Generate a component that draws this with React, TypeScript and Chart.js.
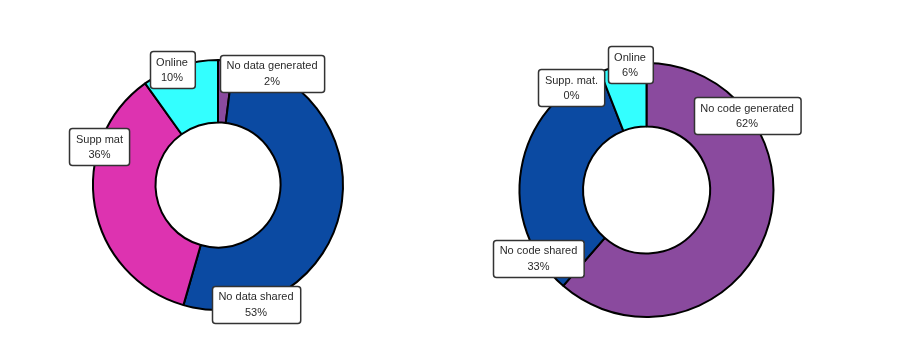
import React, { useEffect, useRef } from "react";
import { Chart, registerables } from "chart.js";

Chart.register(...registerables);

// Data chart (left)
const dataCategories = ["No data generated", "No data shared", "Supp mat", "Online"];
const dataValues = [2, 53, 36, 10];
// Code chart (right)
const codeCategories = ["No code generated", "No code shared", "Supp. mat.", "Online"];
const codeValues = [62, 33, 0, 6];

const dataColors = ["#8A4A9E", "#0B4AA2", "#DD33B0", "#33FFFF"];
const codeColors = ["#8A4A9E", "#0B4AA2", "#DD33B0", "#33FFFF"];

// label box centre offsets relative to the doughnut centre (styling only)
const dataLabelOffsets = [
  [54, -112],
  [38, 119],
  [-118.5, -38.5],
  [-46, -115.5],
];
const codeLabelOffsets = [
  [100.5, -74.5],
  [-108, 68],
  [-75, -102.5],
  [-16.5, -125.5],
];

function roundRect(ctx: CanvasRenderingContext2D, x: number, y: number, w: number, h: number, r: number) {
  ctx.beginPath();
  ctx.moveTo(x + r, y);
  ctx.lineTo(x + w - r, y);
  ctx.arcTo(x + w, y, x + w, y + r, r);
  ctx.lineTo(x + w, y + h - r);
  ctx.arcTo(x + w, y + h, x + w - r, y + h, r);
  ctx.lineTo(x + r, y + h);
  ctx.arcTo(x, y + h, x, y + h - r, r);
  ctx.lineTo(x, y + r);
  ctx.arcTo(x, y, x + r, y, r);
  ctx.closePath();
}

function makeLabelPlugin(offsets: number[][]) {
  return {
    id: "boxLabels",
    afterDatasetsDraw(chart: any) {
      const ctx: CanvasRenderingContext2D = chart.ctx;
      const meta = chart.getDatasetMeta(0);
      const labels: string[] = chart.data.labels;
      const values: number[] = chart.data.datasets[0].data;
      ctx.save();
      ctx.font = "11px 'Liberation Sans', Arial, sans-serif";
      meta.data.forEach((arc: any, i: number) => {
        const cx = arc.x + offsets[i][0];
        const cy = arc.y + offsets[i][1];
        const l1 = labels[i];
        const l2 = `${values[i]}%`;
        const w = Math.max(ctx.measureText(l1).width, ctx.measureText(l2).width) + 13;
        const h = 37;
        const x = Math.round(cx - w / 2) + 0.5;
        const y = Math.round(cy - h / 2) + 0.5;
        roundRect(ctx, x, y, w, h, 3);
        ctx.fillStyle = "#ffffff";
        ctx.fill();
        ctx.lineWidth = 1.5;
        ctx.strokeStyle = "#333333";
        ctx.stroke();
        ctx.fillStyle = "#2a2a2a";
        ctx.textAlign = "center";
        ctx.textBaseline = "middle";
        ctx.fillText(l1, cx, cy - 7);
        ctx.fillText(l2, cx, cy + 8.5);
      });
      ctx.restore();
    },
  };
}

function Donut(props: {
  labels: string[];
  values: number[];
  colors: string[];
  offsets: number[][];
  width: number;
  height: number;
  padding: { left: number; right: number; top: number; bottom: number };
  left: number;
}) {
  const ref = useRef<HTMLCanvasElement>(null);
  useEffect(() => {
    if (!ref.current) return;
    const chart = new Chart(ref.current, {
      type: "doughnut",
      data: {
        labels: props.labels,
        datasets: [
          {
            data: props.values,
            backgroundColor: props.colors,
            borderColor: "#000000",
            borderWidth: 2,
          },
        ],
      },
      options: {
        responsive: false,
        animation: false,
        cutout: "50%",
        layout: { padding: props.padding },
        plugins: { legend: { display: false }, tooltip: { enabled: false } },
      },
      plugins: [makeLabelPlugin(props.offsets)],
    });
    return () => chart.destroy();
  }, []);
  return (
    <canvas
      ref={ref}
      width={props.width}
      height={props.height}
      style={{ position: "absolute", left: props.left, top: 0, width: props.width, height: props.height }}
    />
  );
}

export default function App() {
  return (
    <div style={{ position: "relative", width: 905, height: 342, background: "#fff" }}>
      <Donut
        labels={dataCategories}
        values={dataValues}
        colors={dataColors}
        offsets={dataLabelOffsets}
        width={450}
        height={342}
        left={0}
        padding={{ left: 84, right: 114, top: 51, bottom: 39 }}
      />
      <Donut
        labels={codeCategories}
        values={codeValues}
        colors={codeColors}
        offsets={codeLabelOffsets}
        width={455}
        height={342}
        left={450}
        padding={{ left: 60.5, right: 138.5, top: 54, bottom: 32 }}
      />
    </div>
  );
}
